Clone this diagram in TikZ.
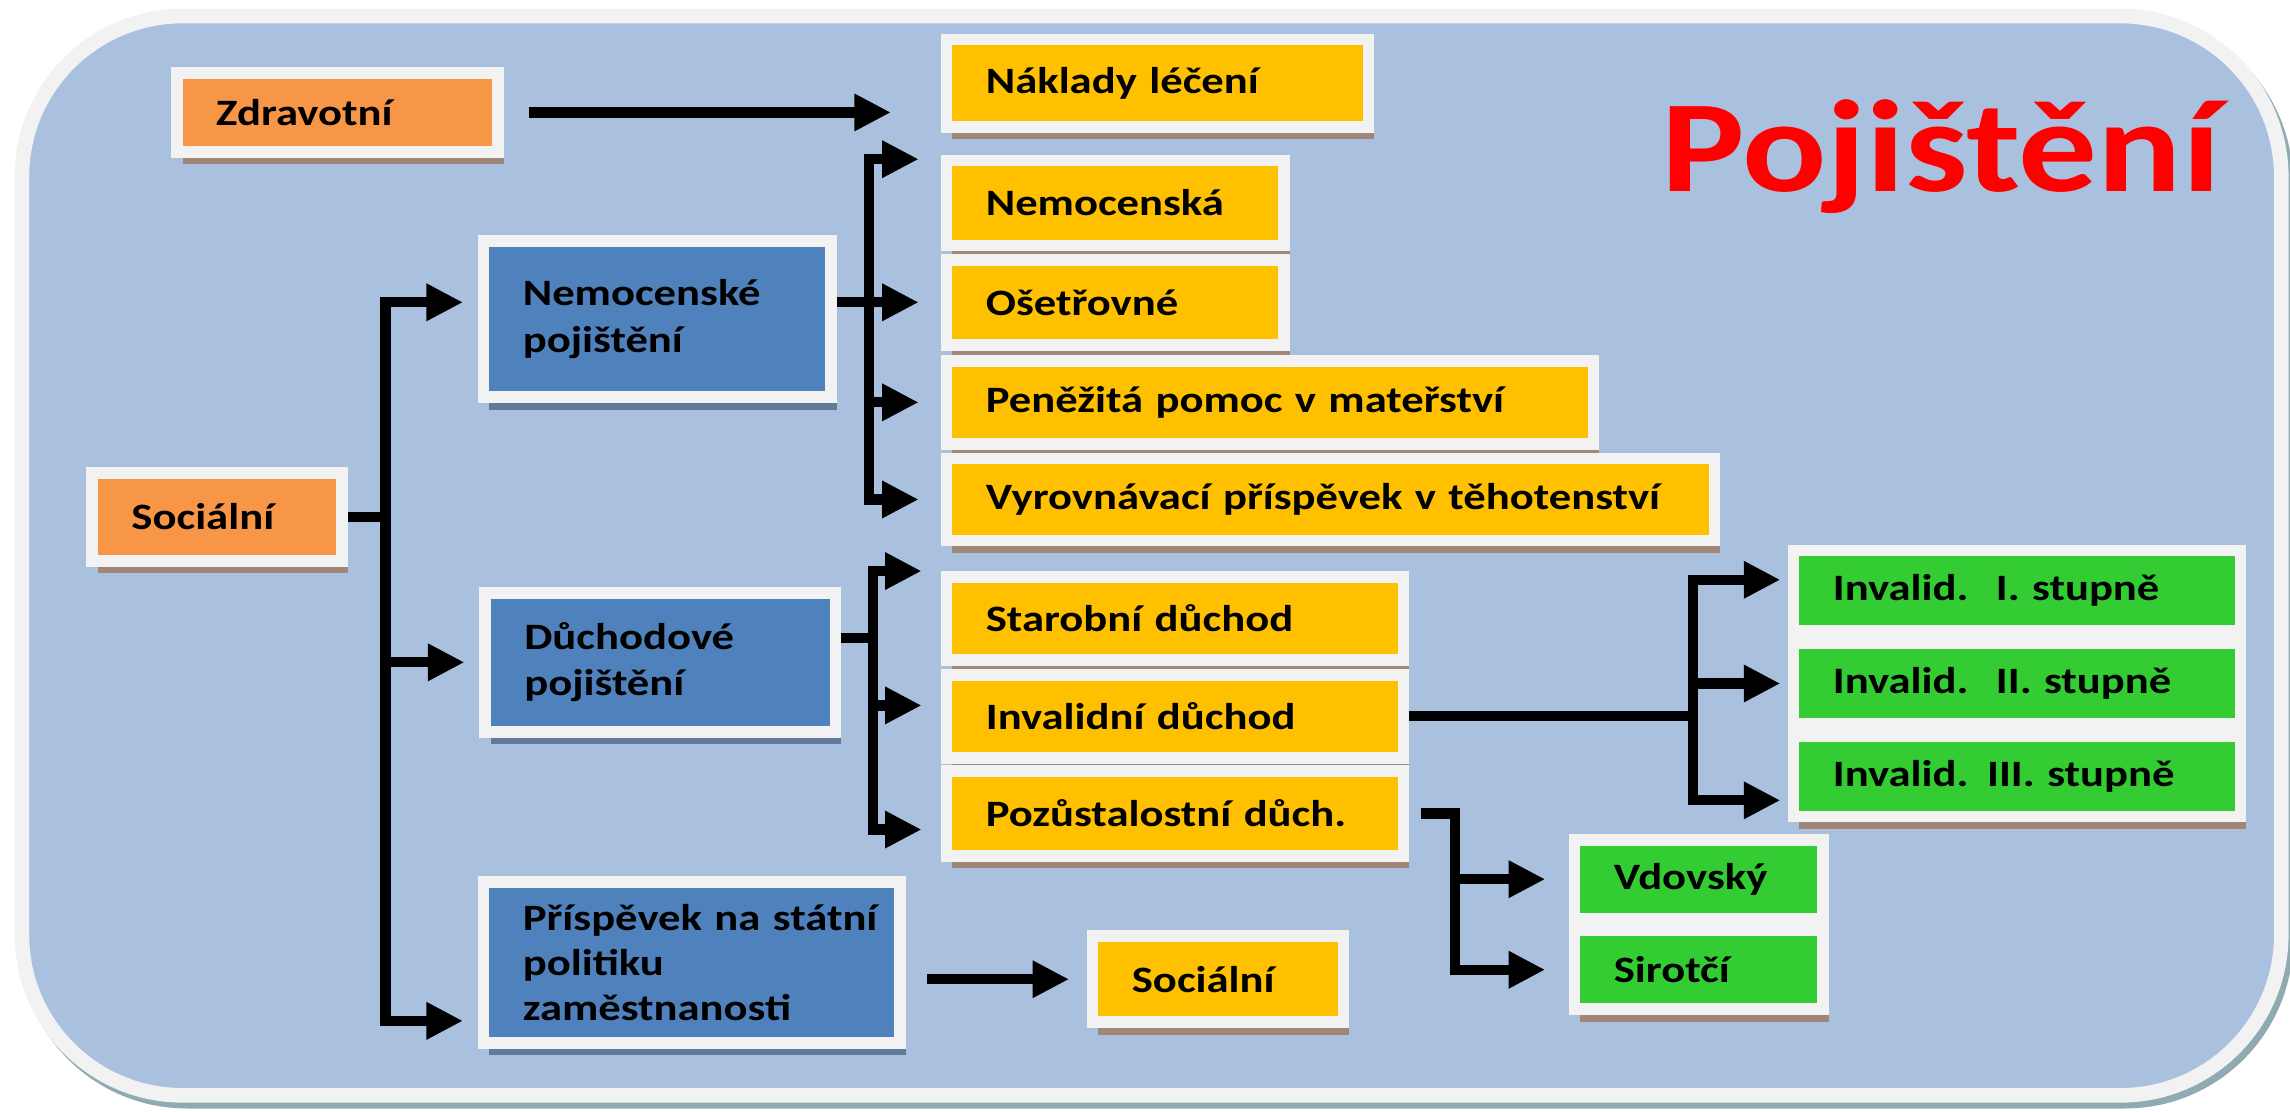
\documentclass[tikz,border=0pt]{standalone}
\usepackage{fontspec}
\newfontfamily\boxfont{Carlito}[FakeStretch=1.2]
\usetikzlibrary{arrows.meta,calc,shadows}
\definecolor{bgblue}{HTML}{AAC0DF}
\definecolor{framegray}{HTML}{F2F2F2}
\definecolor{shadeteal}{HTML}{8FAAB0}
\definecolor{shadebrown}{HTML}{A08676}
\definecolor{shadeblue}{HTML}{62799A}
\definecolor{orbox}{HTML}{F79646}
\definecolor{goldbox}{HTML}{FFC000}
\definecolor{bluebox}{HTML}{4F81BD}
\definecolor{greenbox}{HTML}{33CC33}
\definecolor{titlered}{HTML}{FF0000}
\tikzset{
	box/.style={draw=framegray, line width=0.16cm, inner xsep=0.54cm, inner ysep=0pt, align=left,
		font=\boxfont\bfseries\fontsize{14.5pt}{18pt}\selectfont},
	warmbox/.style={box, fill=#1, general shadow={fill=shadebrown, shadow xshift=0.08cm, shadow yshift=-0.17cm}},
	coolbox/.style={box, fill=bluebox, general shadow={fill=shadeblue, shadow xshift=0.08cm, shadow yshift=-0.17cm}},
	conn/.style={line width=0.14cm},
	arr/.style={conn, -{Triangle[length=0.5cm,width=0.48cm]}},
	arrs/.style={conn, {Triangle[length=0.5cm,width=0.48cm]}-{Triangle[length=0.5cm,width=0.48cm]}}
}
\begin{document}
\begin{tikzpicture}

	\fill[white] (0,0) rectangle (31.36,-15.22);
	\useasboundingbox (0,0) rectangle (31.36,-15.22);
	\draw[draw=shadeteal, line width=0.2cm, rounded corners=2.2cm] (0.36,-0.30) rectangle (31.30,-15.08);
	\draw[draw=framegray, fill=bgblue, line width=0.2cm, rounded corners=2.2cm] (0.30,-0.22) rectangle (31.24,-15.0);

	\node[anchor=base west, inner sep=0pt, text=titlered, font=\boxfont\bfseries\fontsize{51pt}{60pt}\selectfont] (title) at (22.74,-2.62) {Pojištění};

	\node[warmbox=orbox, minimum height=1.08cm, text width=3.32cm] (zdrav) at (4.62,-1.54) {Zdravotní};
	\node[warmbox=orbox, minimum height=1.20cm, text width=2.34cm] (socl) at (2.97,-7.08) {Sociální};

	\node[coolbox, minimum height=2.14cm, text width=3.68cm] (nemp) at (9.00,-4.37) {Nemocenské\\pojištění};
	\node[coolbox, minimum height=1.90cm, text width=3.72cm] (duch) at (9.04,-9.07) {Důchodové\\pojištění};
	\node[coolbox, minimum height=2.20cm, text width=4.62cm, font=\boxfont\bfseries\fontsize{14.5pt}{17.5pt}\selectfont] (prisp) at (9.47,-13.18) {\mbox{Příspěvek na státní}\\politiku\\zaměstnanosti};

	\node[warmbox=goldbox, minimum height=1.20cm, text width=4.70cm] (nakl) at (15.85,-1.14) {Náklady léčení};
	\node[warmbox=goldbox, minimum height=1.16cm, text width=3.54cm] (nemo) at (15.27,-2.78) {Nemocenská};
	\node[warmbox=goldbox, minimum height=1.16cm, text width=3.54cm] (oset) at (15.27,-4.14) {Ošetřovné};
	\node[warmbox=goldbox, minimum height=1.14cm, text width=7.78cm] (pene) at (17.39,-5.51) {Peněžitá pomoc v mateřství};
	\node[warmbox=goldbox, minimum height=1.12cm, text width=9.44cm] (vyrov) at (18.22,-6.84) {Vyrovnávací příspěvek v těhotenství};

	\node[warmbox=goldbox, minimum height=1.14cm, text width=5.18cm] (star) at (16.09,-8.47) {Starobní důchod};
	\node[warmbox=goldbox, minimum height=1.14cm, text width=5.18cm] (inva) at (16.09,-9.81) {Invalidní důchod};
	\node[warmbox=goldbox, minimum height=1.16cm, text width=5.18cm] (poz) at (16.09,-11.14) {Pozůstalostní důch.};
	\node[warmbox=goldbox, minimum height=1.18cm, text width=2.36cm] (soc2) at (16.68,-13.41) {Sociální};

	\node[warmbox=greenbox, minimum height=1.10cm, text width=5.04cm] (inv1) at (27.62,-8.09) {Invalid.\hspace{0.12cm} I. stupně};
	\node[warmbox=greenbox, minimum height=1.10cm, text width=5.04cm] (inv2) at (27.62,-9.36) {Invalid.\hspace{0.12cm} II. stupně};
	\node[warmbox=greenbox, minimum height=1.10cm, text width=5.04cm] (inv3) at (27.62,-10.63) {Invalid. III. stupně};

	\node[warmbox=greenbox, minimum height=1.08cm, text width=2.32cm] (vdov) at (23.26,-12.04) {Vdovský};
	\node[warmbox=greenbox, minimum height=1.08cm, text width=2.32cm] (siro) at (23.26,-13.28) {Sirotčí};

	\coordinate (sbus) at (5.28,0);
	\coordinate (nbus) at (11.90,0);
	\coordinate (dbus) at (11.96,0);
	\coordinate (pbus) at (19.92,0);
	\coordinate (ibus) at (23.18,0);

	\draw[arr] ($(zdrav.east)+(0.34,0)$) -- ($(nakl.west |- zdrav.east)+(-0.68,0)$);

	\draw[conn] (socl.east) -- (sbus |- socl.east);
	\draw[arrs] ($(nemp.west |- oset.west)+(-0.2,0)$) -| ($(sbus |- prisp.west)+(0,-0.8)$) -- ($(prisp.west)+(-0.2,-0.8)$);
	\draw[arr] (sbus |- duch.west) -- ($(duch.west)+(-0.2,0)$);

	\draw[arrs] ($(nemo.north west)+(-0.3,-0.06)$) -| (nbus |- vyrov.west) -- ($(vyrov.west)+(-0.3,0)$);
	\draw[arr] (nemp.east |- oset.west) -- ($(oset.west)+(-0.3,0)$);
	\draw[arr] (nbus |- pene.west) -- ($(pene.west)+(-0.3,0)$);

	\draw[conn] ($(duch.east)+(0,0.33)$) -- ($(dbus |- duch.east)+(0,0.33)$);
	\draw[arrs] ($(star.north west)+(-0.26,0)$) -| ($(dbus |- poz.west)+(0,-0.22)$) -- ($(poz.west)+(-0.26,-0.22)$);
	\draw[arr] ($(dbus |- inva.west)+(0,0.15)$) -- ($(inva.west)+(-0.26,0.15)$);

	\draw[conn] (inva.east) -- (ibus |- inva.east);
	\draw[arrs] ($(inv1.west)+(-0.1,0.15)$) -| ($(ibus |- inv3.west)+(0,-0.33)$) -- ($(inv3.west)+(-0.1,-0.33)$);
	\draw[arr] (ibus |- inv2.west) -- ($(inv2.west)+(-0.1,0)$);

	\draw[arr] ($(poz.east)+(0.16,0)$) -| (pbus |- siro.west) -- ($(siro.west)+(-0.32,0)$);
	\draw[arr] (pbus |- vdov.west) -- ($(vdov.west)+(-0.32,0)$);

	\draw[arr] ($(prisp.east |- soc2.west)+(0.3,0)$) -- ($(soc2.west)+(-0.24,0)$);
\end{tikzpicture}
\end{document}
